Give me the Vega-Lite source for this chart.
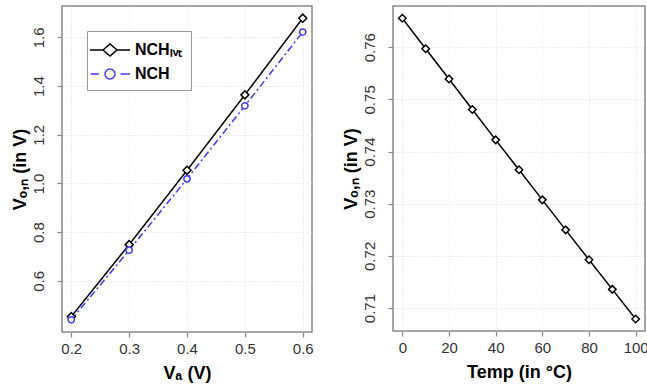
{
  "$schema": "https://vega.github.io/schema/vega-lite/v6.json",
  "padding": {"left": 10, "top": 5, "right": 2, "bottom": 4},
  "background": "white",
  "spacing": 27,
  "config": {
    "font": "Liberation Sans",
    "view": {"stroke": "#888888", "strokeWidth": 1.5},
    "axis": {
      "domain": false,
      "tickColor": "#888888",
      "tickSize": 5,
      "tickWidth": 1.2,
      "labelFont": "Liberation Sans",
      "labelFontSize": 15,
      "labelColor": "#333333",
      "titleFont": "Liberation Sans",
      "titleFontSize": 18,
      "titleFontWeight": "bold",
      "titleColor": "black",
      "grid": true,
      "gridColor": "#dddddd",
      "gridDash": [1, 2],
      "gridWidth": 1
    },
    "axisY": {"labelAngle": -90, "labelAlign": "center", "labelBaseline": "bottom", "labelPadding": 11, "titlePadding": 2},
    "axisX": {"labelPadding": 4, "titlePadding": 8, "labelFlush": false}
  },
  "datasets": {
    "va": [
      {"series": "LVT", "VA": 0.2, "V": 0.453},
      {"series": "LVT", "VA": 0.3, "V": 0.749},
      {"series": "LVT", "VA": 0.4, "V": 1.054},
      {"series": "LVT", "VA": 0.5, "V": 1.364},
      {"series": "LVT", "VA": 0.6, "V": 1.679},
      {"series": "NCH", "VA": 0.2, "V": 0.440},
      {"series": "NCH", "VA": 0.3, "V": 0.726},
      {"series": "NCH", "VA": 0.4, "V": 1.019},
      {"series": "NCH", "VA": 0.5, "V": 1.319},
      {"series": "NCH", "VA": 0.6, "V": 1.622}
    ],
    "temp": [
      {"T": 0, "V": 0.76556},
      {"T": 10, "V": 0.7597},
      {"T": 20, "V": 0.7539},
      {"T": 30, "V": 0.74806},
      {"T": 40, "V": 0.74224},
      {"T": 50, "V": 0.7365},
      {"T": 60, "V": 0.73074},
      {"T": 70, "V": 0.72499},
      {"T": 80, "V": 0.71925},
      {"T": 90, "V": 0.71358},
      {"T": 100, "V": 0.70789}
    ]
  },
  "hconcat": [
    {
      "width": 250,
      "height": 326,
      "data": {"name": "va"},
      "encoding": {
        "x": {"field": "VA", "type": "quantitative",
              "scale": {"domain": [0.184, 0.616], "nice": false, "zero": false},
              "axis": {"values": [0.2, 0.3, 0.4, 0.5, 0.6], "format": ".1f", "title": "Vₐ (V)"}},
        "y": {"field": "V", "type": "quantitative",
              "scale": {"domain": [0.39, 1.729], "nice": false, "zero": false},
              "axis": {"values": [0.6, 0.8, 1.0, 1.2, 1.4, 1.6], "format": ".1f", "title": "Vₒ,ₙ (in V)"}}
      },
      "layer": [
        {
          "mark": {"type": "line", "strokeWidth": 1.5},
          "encoding": {
            "color": {"field": "series", "type": "nominal", "scale": {"domain": ["LVT", "NCH"], "range": ["black", "#3b3bff"]}, "legend": null},
            "strokeDash": {"field": "series", "type": "nominal", "scale": {"domain": ["LVT", "NCH"], "range": [[1, 0], [7, 3, 2, 3]]}, "legend": null}
          }
        },
        {
          "mark": {"type": "point", "filled": false, "fill": "white", "fillOpacity": 1, "strokeWidth": 1.5, "opacity": 1},
          "encoding": {
            "color": {"field": "series", "type": "nominal", "scale": {"domain": ["LVT", "NCH"], "range": ["black", "#3b3bff"]}, "legend": null},
            "shape": {"field": "series", "type": "nominal", "scale": {"domain": ["LVT", "NCH"], "range": ["diamond", "circle"]}, "legend": null},
            "size": {"field": "series", "type": "nominal", "scale": {"domain": ["LVT", "NCH"], "range": [64, 40]}, "legend": null}
          }
        },
        {
          "mark": {"type": "point", "filled": false, "opacity": 0, "strokeWidth": 1.5},
          "encoding": {
            "color": {"field": "series", "type": "nominal", "scale": {"domain": ["LVT", "NCH"], "range": ["black", "#3b3bff"]},
                      "legend": {"title": null, "orient": "top-left", "offset": 25, "padding": 8,
                                 "strokeColor": "#999999", "fillColor": "white", "cornerRadius": 0,
                                 "symbolSize": 400, "symbolOffset": 4, "labelOffset": 14, "symbolStrokeWidth": 1.5,
                                 "symbolOpacity": 1, "symbolFillColor": "white",
                                 "labelFont": "Liberation Sans", "labelFontSize": 16, "labelFontWeight": "bold", "labelColor": "black",
                                 "rowPadding": 4,
                                 "labelExpr": "datum.label == 'LVT' ? 'NCHₗᵥₜ' : 'NCH'"}},
            "shape": {"field": "series", "type": "nominal",
                      "scale": {"domain": ["LVT", "NCH"], "range": [
                        "M-2,0L-0.7,0M0.7,0L2,0M-0.7,0L0,-0.6L0.7,0L0,0.6Z",
                        "M-1.94,0L-1.1,0M1.06,0L2,0M-0.5,0A0.5,0.5,0,1,1,0.5,0A0.5,0.5,0,1,1,-0.5,0Z"
                      ]},
                      "legend": {"title": null, "orient": "top-left", "offset": 25, "padding": 8,
                                 "strokeColor": "#999999", "fillColor": "white", "cornerRadius": 0,
                                 "symbolSize": 400, "symbolOffset": 4, "labelOffset": 14, "symbolStrokeWidth": 1.5,
                                 "symbolOpacity": 1, "symbolFillColor": "white",
                                 "labelFont": "Liberation Sans", "labelFontSize": 16, "labelFontWeight": "bold", "labelColor": "black",
                                 "rowPadding": 4,
                                 "labelExpr": "datum.label == 'LVT' ? 'NCHₗᵥₜ' : 'NCH'"}}
          }
        }
      ],
      "resolve": {"scale": {"color": "independent", "shape": "independent"}}
    },
    {
      "width": 252,
      "height": 325,
      "data": {"name": "temp"},
      "encoding": {
        "x": {"field": "T", "type": "quantitative",
              "scale": {"domain": [-4, 104], "nice": false, "zero": false},
              "axis": {"values": [0, 20, 40, 60, 80, 100], "format": "d", "title": "Temp (in °C)"}},
        "y": {"field": "V", "type": "quantitative",
              "scale": {"domain": [0.7056, 0.7679], "nice": false, "zero": false},
              "axis": {"values": [0.71, 0.72, 0.73, 0.74, 0.75, 0.76], "format": ".2f", "title": "Vₒ,ₙ (in V)"}}
      },
      "layer": [
        {"mark": {"type": "line", "color": "black", "strokeWidth": 1.5}, "encoding": {}},
        {"mark": {"type": "point", "shape": "diamond", "size": 56, "filled": false, "fill": "white", "fillOpacity": 1, "color": "black", "strokeWidth": 1.5, "opacity": 1}, "encoding": {}}
      ]
    }
  ]
}
